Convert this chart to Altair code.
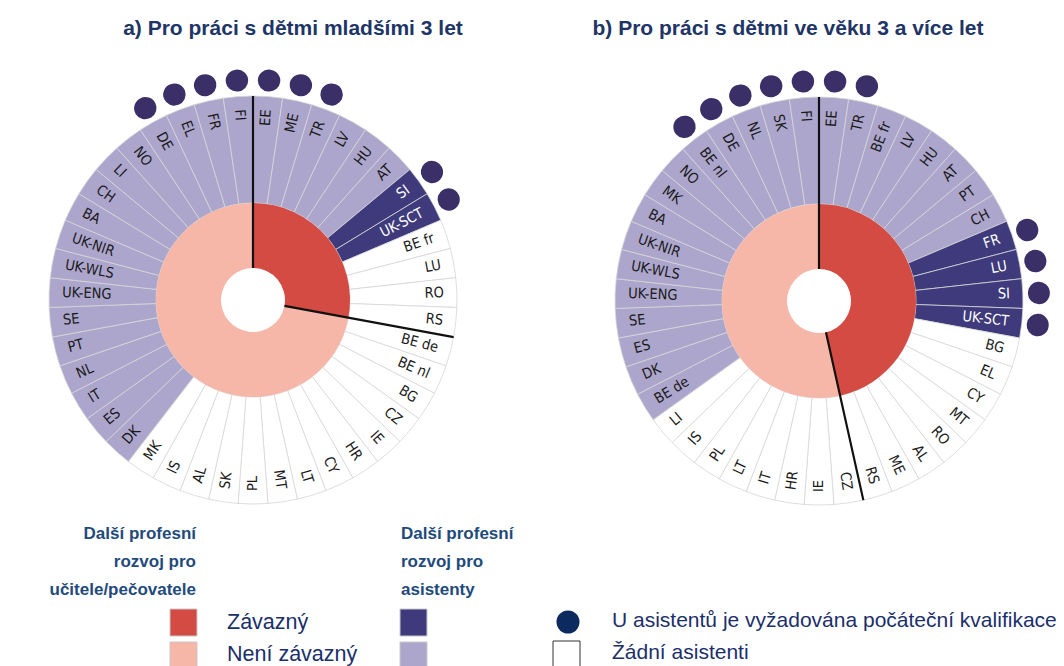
import altair as alt
import pandas as pd

N = 43

# ---------------- chart a) children under 3 ----------------
labels_a = ["EE", "ME", "TR", "LV", "HU", "AT", "SI", "UK-SCT", "BE fr", "LU", "RO",
            "RS", "BE de", "BE nl", "BG", "CZ", "IE", "HR", "CY", "LT", "MT", "PL",
            "SK", "AL", "IS", "MK", "DK", "ES", "IT", "NL", "PT", "SE", "UK-ENG",
            "UK-WLS", "UK-NIR", "BA", "CH", "LI", "NO", "DE", "EL", "FR", "FI"]
# teacher CPD: Z = mandatory (Závazný), N = not mandatory
teacher_a = ["Z", "Z", "Z", "Z", "Z", "Z", "Z", "Z", "Z", "Z", "Z",
             "Z", "N", "N", "N", "N", "N", "N", "N", "N", "N", "N",
             "N", "N", "N", "N", "N", "N", "N", "N", "N", "N", "N",
             "N", "N", "N", "N", "N", "N", "N", "N", "N", "N"]
# assistants CPD: D = mandatory, L = not mandatory, W = no assistants
assist_a = ["L", "L", "L", "L", "L", "L", "D", "D", "W", "W", "W",
            "W", "W", "W", "W", "W", "W", "W", "W", "W", "W", "W",
            "W", "W", "W", "W", "L", "L", "L", "L", "L", "L", "L",
            "L", "L", "L", "L", "L", "L", "L", "L", "L", "L"]
dots_a = ["DE", "EL", "FR", "FI", "EE", "ME", "TR", "SI", "UK-SCT"]

# ---------------- chart b) children 3 and over ----------------
labels_b = ["EE", "TR", "BE fr", "LV", "HU", "AT", "PT", "CH", "FR", "LU", "SI",
            "UK-SCT", "BG", "EL", "CY", "MT", "RO", "AL", "ME", "RS", "CZ", "IE",
            "HR", "IT", "LT", "PL", "IS", "LI", "BE de", "DK", "ES", "SE", "UK-ENG",
            "UK-WLS", "UK-NIR", "BA", "MK", "NO", "BE nl", "DE", "NL", "SK", "FI"]
teacher_b = ["Z", "Z", "Z", "Z", "Z", "Z", "Z", "Z", "Z", "Z", "Z",
             "Z", "Z", "Z", "Z", "Z", "Z", "Z", "Z", "Z", "N", "N",
             "N", "N", "N", "N", "N", "N", "N", "N", "N", "N", "N",
             "N", "N", "N", "N", "N", "N", "N", "N", "N", "N"]
assist_b = ["L", "L", "L", "L", "L", "L", "L", "L", "D", "D", "D",
            "D", "W", "W", "W", "W", "W", "W", "W", "W", "W", "W",
            "W", "W", "W", "W", "W", "W", "L", "L", "L", "L", "L",
            "L", "L", "L", "L", "L", "L", "L", "L", "L", "L"]
dots_b = ["BE nl", "DE", "NL", "SK", "FI", "EE", "TR", "FR", "LU", "SI", "UK-SCT"]

title_a = "a) Pro práci s dětmi mladšími 3 let"
title_b = "b) Pro práci s dětmi ve věku 3 a více let"
legend_head_teacher = ["Další profesní", "rozvoj pro", "učitele/pečovatele"]
legend_head_assist = ["Další profesní", "rozvoj pro", "asistenty"]
legend_mand = "Závazný"
legend_opt = "Není závazný"
legend_dot = "U asistentů je vyžadována počáteční kvalifikace"
legend_none = "Žádní asistenti"

rows, lines, runs = [], [], []
for cid, labs, tch, ast, dts in [("a", labels_a, teacher_a, assist_a, dots_a),
                                 ("b", labels_b, teacher_b, assist_b, dots_b)]:
    for i, lab in enumerate(labs):
        rows.append({"chart": cid, "idx": i, "label": lab, "teacher": tch[i],
                     "assist": ast[i], "dot": 1 if lab in dts else 0})
        if tch[i] != tch[i - 1]:
            lines.append({"chart": cid, "pos": i})
    # contiguous runs of the teacher category (inner ring)
    start = 0
    for i in range(1, len(tch) + 1):
        if i == len(tch) or tch[i] != tch[start]:
            runs.append({"chart": cid, "start": start, "end": i, "teacher": tch[start]})
            start = i
df = pd.DataFrame(rows)
lines_df = pd.DataFrame(lines)
runs_df = pd.DataFrame(runs)

FONT_LBL = "DejaVu Sans Condensed, Roboto Condensed, Liberation Sans Narrow, Roboto, sans-serif"
FONT = "Liberation Sans, Arial, sans-serif"
R_OUT, R_MID, R_HOLE, R_LBL = 204, 97, 32, 191

theta_scale = alt.Scale(domain=[0, N], range=[0, 6.283185307179586], nice=False, zero=False)
color_scale = alt.Scale(domain=["L", "D", "W", "Z", "N"],
                        range=["#ada6cc", "#3e3a7c", "#ffffff", "#d34b42", "#f6b6a8"])


def ring(cid, cx, cy):
    base = (alt.Chart(df)
            .transform_filter(f"datum.chart == '{cid}'")
            .transform_calculate(end="datum.idx + 1", mid="datum.idx + 0.5",
                                 deg="(datum.idx + 0.5) * 360 / 43"))
    pos = dict(x=alt.value(cx), y=alt.value(cy))
    outer = base.mark_arc(radius=R_OUT, radius2=R_MID, stroke="#d6d6d6", strokeWidth=0.8).encode(
        theta=alt.Theta("idx:Q", scale=theta_scale, stack=False),
        theta2="end:Q",
        color=alt.Color("assist:N", scale=color_scale, legend=None), **pos)
    inner = (alt.Chart(runs_df).transform_filter(f"datum.chart == '{cid}'")
             .mark_arc(radius=R_MID, radius2=R_HOLE)
             .encode(theta=alt.Theta("start:Q", scale=theta_scale, stack=False),
                     theta2="end:Q",
                     color=alt.Color("teacher:N", scale=color_scale, legend=None), **pos))
    sep = (alt.Chart(lines_df).transform_filter(f"datum.chart == '{cid}'")
           .mark_arc(radius=R_OUT, radius2=R_HOLE, stroke="#111111", strokeWidth=2.2, fillOpacity=0)
           .encode(theta=alt.Theta("pos:Q", scale=theta_scale, stack=False), theta2="pos:Q", **pos))
    dots = (base.transform_filter("datum.dot == 1")
            .transform_calculate(d0="datum.idx + 0.5 - 0.35", d1="datum.idx + 0.5 + 0.35")
            .mark_arc(radius=231, radius2=209, cornerRadius=11, color="#3b2f68")
            .encode(theta=alt.Theta("d0:Q", scale=theta_scale, stack=False), theta2="d1:Q", **pos))
    txt_color = alt.condition("datum.assist == 'D'", alt.value("#ffffff"), alt.value("#1a1a1a"))
    right = (base.transform_filter("datum.deg < 180")
             .transform_calculate(ang="(datum.deg + 270) % 360")
             .mark_text(radius=R_LBL, align="right", baseline="middle", font=FONT_LBL, fontSize=14.5)
             .encode(theta=alt.Theta("mid:Q", scale=theta_scale, stack=False),
                     angle=alt.Angle("ang:Q", scale=None), text="label:N", color=txt_color, **pos))
    left = (base.transform_filter("datum.deg >= 180")
            .transform_calculate(ang="(datum.deg + 90) % 360")
            .mark_text(radius=R_LBL, align="left", baseline="middle", font=FONT_LBL, fontSize=14.5)
            .encode(theta=alt.Theta("mid:Q", scale=theta_scale, stack=False),
                    angle=alt.Angle("ang:Q", scale=None), text="label:N", color=txt_color, **pos))
    return [outer, inner, sep, dots, right, left]


one = alt.Data(values=[{"k": 1}])


def label(text, x, y, size, weight="normal", align="left", color="#1b2f6b", baseline="middle", lh=None):
    kw = dict(align=align, baseline=baseline, font=FONT, fontSize=size, fontWeight=weight, color=color)
    if lh:
        kw["lineHeight"] = lh
    return alt.Chart(one).mark_text(**kw).encode(x=alt.value(x), y=alt.value(y), text=alt.value(text))


def swatch(x, y, fill, stroke="#c8c8c8"):
    return alt.Chart(one).mark_square(size=729, filled=True, color=fill, stroke=stroke,
                                      strokeWidth=1, opacity=1).encode(x=alt.value(x), y=alt.value(y))


layers = ring("a", 245, 292) + ring("b", 811, 293)
layers += [
    label(title_a, 285, 21, 21, "bold", "center", "#1e3566"),
    label(title_b, 780, 21, 21, "bold", "center", "#1e3566"),
    label(legend_head_teacher, 188, 531, 17, "bold", "right", "#1f4a7c", "alphabetic", 28),
    label(legend_head_assist, 393, 531, 17, "bold", "left", "#1f4a7c", "alphabetic", 28),
    swatch(175.5, 614.5, "#d34b42"),
    swatch(175.5, 647.5, "#f6b6a8"),
    swatch(405.5, 614.5, "#3e3a7c"),
    swatch(405.5, 647.5, "#ada6cc"),
    label(legend_mand, 219, 615, 21.5),
    label(legend_opt, 219, 647, 21.5),
    alt.Chart(one).mark_circle(size=530, color="#0c2a5e", opacity=1).encode(x=alt.value(560), y=alt.value(614)),
    swatch(558.5, 646.5, "#ffffff", "#333333"),
    label(legend_dot, 604, 613, 21),
    label(legend_none, 604, 645, 21),
]

chart = alt.layer(*layers).properties(
    width=1048, height=658, padding=0, autosize=alt.AutoSizeParams(type="none")
).configure_view(strokeWidth=0)

chart.save("out.html", embed_options={"renderer": "svg", "actions": False})
